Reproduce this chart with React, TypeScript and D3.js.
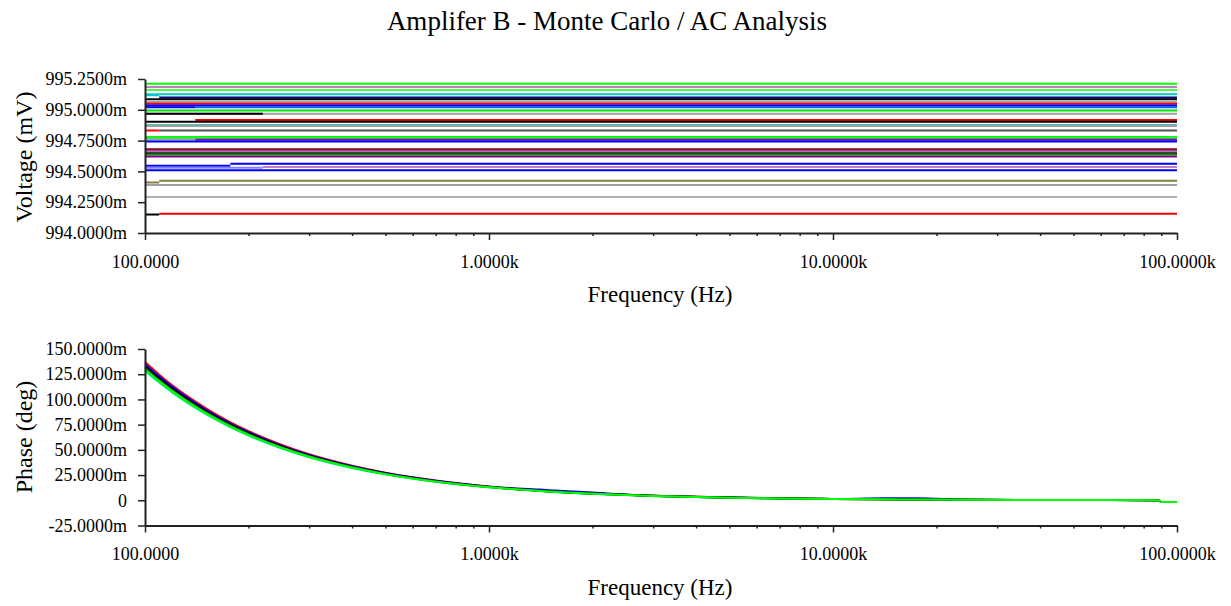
import React, { useEffect, useRef } from 'react';
import * as d3 from 'd3';

const FONT = 'Liberation Serif, Times New Roman, serif';

const freqTicks = [100, 1000, 10000, 100000];
const freqTickLabels = ['100.0000', '1.0000k', '10.0000k', '100.0000k'];

const voltTicks = [994, 994.25, 994.5, 994.75, 995, 995.25];
const voltTickLabels = ['994.0000m', '994.2500m', '994.5000m', '994.7500m', '995.0000m', '995.2500m'];

const phaseTicks = [-25, 0, 25, 50, 75, 100, 125, 150];
const phaseTickLabels = ['-25.0000m', '0', '25.0000m', '50.0000m', '75.0000m', '100.0000m', '125.0000m', '150.0000m'];

// Monte Carlo runs, voltage plot: each entry is a flat segment (from Hz, to Hz, level mV)
const voltColor = [
    '#00ff00', '#c080c0', '#40ff40', '#00c8c8', '#00c8c8', '#000080', '#000000', '#a0a0a0',
    '#ff0000', '#0000ff', '#0060ff', '#0000ff', '#00e000', '#a0a0a0', '#000000', '#ff0000',
    '#000000', '#40c0c0', '#a0a0a0', '#505050', '#ff0000', '#00ff00', '#40e040', '#a0a0c0',
    '#8000c0', '#0000ff', '#800000', '#a040a0', '#000000', '#00a000', '#800080', '#0000ff',
    '#0000ff', '#8080ff', '#c080c0', '#0000ff', '#808040', '#808040', '#a0a0a0', '#b0b0b0',
    '#ff0000', '#000000',
];
const voltFrom = [
    100, 100, 100, 100, 100, 110, 100, 100,
    100, 100, 140, 100, 100, 100, 100, 140,
    100, 100, 100, 110, 100, 100, 100, 100,
    140, 100, 100, 100, 100, 100, 100, 100,
    177, 100, 220, 100, 100, 110, 100, 100,
    110, 100,
];
const voltTo = [
    100000, 100000, 100000, 100000, 110, 100000, 100000, 100000,
    100000, 100000, 100000, 140, 100000, 100000, 220, 100000,
    100000, 100000, 100000, 100000, 110, 100000, 100000, 140,
    100000, 100000, 100000, 100000, 100000, 100000, 100000, 177,
    100000, 220, 100000, 100000, 110, 100000, 100000, 100000,
    100000, 110,
];
const voltLevel = [
    995.212, 995.185, 995.161, 995.126, 995.118, 995.100, 995.085, 995.064,
    995.050, 995.034, 995.021, 995.021, 994.994, 994.967, 994.967, 994.918,
    994.904, 994.877, 994.869, 994.832, 994.832, 994.780, 994.767, 994.756,
    994.756, 994.742, 994.680, 994.667, 994.648, 994.637, 994.621, 994.545,
    994.562, 994.530, 994.535, 994.510, 994.410, 994.424, 994.389, 994.292,
    994.157, 994.150,
];

// Phase plot, millidegrees
const phaseFreq = [
    100, 110, 120, 135, 150, 175, 200, 250, 300, 400, 500, 700, 1000,
    1400, 2000, 3000, 5000, 7000, 10000, 14000, 17500, 25000, 50000, 88000, 90000, 100000,
];
const phaseRed = [
    137, 124.5, 114, 101.5, 91.4, 78.3, 68.5, 54.8, 45.6, 34.3, 27.4, 19.6, 13.7,
    9.8, 6.85, 4.56, 2.74, 1.96, 1.37, 0.98, 0.78, 0.55, 0.28, 0.15, -1.6, -1.6,
];
const phaseBlue = [
    135, 122.7, 112.5, 100, 90, 77.1, 67.5, 54, 45, 33.8, 27, 19.3, 13.5,
    10.6, 7.6, 4.5, 2.7, 1.93, 1.35, 1.9, 1.9, 0.54, 0.27, 0.15, -1.6, -1.6,
];
const phaseBlack = [
    133, 120.9, 110.8, 98.5, 88.7, 76, 66.5, 53.2, 44.3, 33.3, 26.6, 19, 13.3,
    9.5, 6.65, 4.43, 2.66, 1.9, 1.33, 0.95, 0.76, 0.53, 0.27, 0.15, -1.6, -1.6,
];
const phaseDarkGreen = [
    131, 119.1, 109.1, 97, 87.4, 74.9, 65.5, 52.4, 43.6, 32.8, 26.2, 18.7, 13.1,
    9.4, 6.55, 4.36, 2.62, 1.87, 1.31, 0.94, 0.75, 0.52, 0.27, 0.15, -1.6, -1.6,
];
const phaseCyan = [
    128.5, 116.7, 106.9, 95, 85.6, 73.3, 64.2, 51.3, 42.7, 32.1, 25.7, 18.3, 12.9,
    9.2, 6.4, 4.3, 2.6, 1.85, 1.3, 0.93, 0.74, 0.5, 0.25, 0.1, -1.6, -1.6,
];
const phaseGreen = [
    129.5, 117.9, 108, 96, 86.5, 74.1, 64.8, 51.9, 43.2, 32.5, 25.9, 18.5, 13,
    9.3, 6.5, 4.3, 2.6, 1.85, 1.3, 0.93, 0.74, 0.5, 0.25, 0.1, -1.6, -1.6,
];
const phaseSeries = [phaseCyan, phaseRed, phaseBlue, phaseBlack, phaseDarkGreen, phaseGreen];
const phaseColors = ['#00e0a0', '#ff0000', '#0000ff', '#000000', '#008000', '#00ff00'];

export default function App() {
    const svgRef = useRef<SVGSVGElement>(null);

    useEffect(() => {
        const svg = d3.select(svgRef.current);
        svg.selectAll('*').remove();

        const x = d3.scaleLog().domain([100, 100000]).range([145, 1177]);
        const minorTicks: number[] = [];
        [100, 1000, 10000].forEach((dec) => {
            for (let k = 2; k <= 9; k++) minorTicks.push(dec * k);
        });

        svg.append('text')
            .attr('x', 607)
            .attr('y', 30)
            .attr('text-anchor', 'middle')
            .style('font-family', FONT)
            .style('font-size', '27px')
            .text('Amplifer B - Monte Carlo / AC Analysis');

        const drawFrame = (y, ticks, labels, axisY, yTitle, titleY) => {
            const xa = svg.append('g').attr('transform', 'translate(0,' + axisY + ')');
            xa.call(
                d3.axisBottom(x)
                    .tickValues(freqTicks)
                    .tickFormat((d, i) => freqTickLabels[i])
                    .tickSize(7)
                    .tickPadding(15)
                    .tickSizeOuter(0)
            );
            xa.selectAll('text').style('font-family', FONT).style('font-size', '18px');
            xa.select('.domain').attr('stroke', '#222').attr('stroke-width', 2);
            xa.selectAll('.tick line').attr('stroke', '#222').attr('stroke-width', 1.5);

            const xm = svg.append('g').attr('transform', 'translate(0,' + axisY + ')');
            xm.call(d3.axisBottom(x).tickValues(minorTicks).tickFormat(() => '').tickSize(3));
            xm.select('.domain').remove();
            xm.selectAll('.tick line').attr('stroke', '#222').attr('stroke-width', 1.5);

            const ya = svg.append('g').attr('transform', 'translate(145,0)');
            ya.call(
                d3.axisLeft(y)
                    .tickValues(ticks)
                    .tickFormat((d, i) => labels[i])
                    .tickSize(7)
                    .tickPadding(11)
                    .tickSizeOuter(0)
            );
            ya.selectAll('text').style('font-family', FONT).style('font-size', '18px');
            ya.select('.domain').attr('stroke', '#222').attr('stroke-width', 2);
            ya.selectAll('.tick line').attr('stroke', '#222').attr('stroke-width', 1.5);

            svg.append('text')
                .attr('x', 660)
                .attr('y', axisY + 69)
                .attr('text-anchor', 'middle')
                .style('font-family', FONT)
                .style('font-size', '23px')
                .text('Frequency (Hz)');

            svg.append('text')
                .attr('transform', 'translate(32,' + titleY + ') rotate(-90)')
                .attr('text-anchor', 'middle')
                .style('font-family', FONT)
                .style('font-size', '24px')
                .text(yTitle);
        };

        // voltage panel
        const yV = d3.scaleLinear().domain([994, 995.25]).range([233, 79]);
        const seg = d3
            .line<[number, number]>()
            .x((d) => x(d[0]))
            .y((d) => yV(d[1]));
        voltLevel.forEach((lvl, i) => {
            svg.append('path')
                .attr('d', seg([[voltFrom[i], lvl], [voltTo[i], lvl]]))
                .attr('fill', 'none')
                .attr('stroke', voltColor[i])
                .attr('stroke-width', 2);
        });
        drawFrame(yV, voltTicks, voltTickLabels, 233, 'Voltage (mV)', 157);

        // phase panel
        const yP = d3.scaleLinear().domain([-25, 150]).range([525.5, 349]);
        const phaseLine = d3
            .line<number>()
            .x((d, i) => x(phaseFreq[i]))
            .y((d) => yP(d))
            .curve(d3.curveMonotoneX);
        phaseSeries.forEach((s, i) => {
            svg.append('path')
                .attr('d', phaseLine(s))
                .attr('fill', 'none')
                .attr('stroke', phaseColors[i])
                .attr('stroke-width', 2);
        });
        drawFrame(yP, phaseTicks, phaseTickLabels, 525.5, 'Phase (deg)', 437);
    }, []);

    return (
        <svg
            ref={svgRef}
            width={1231}
            height={606}
            style={{ position: 'absolute', left: 0, top: 0, background: '#fff' }}
        />
    );
}
